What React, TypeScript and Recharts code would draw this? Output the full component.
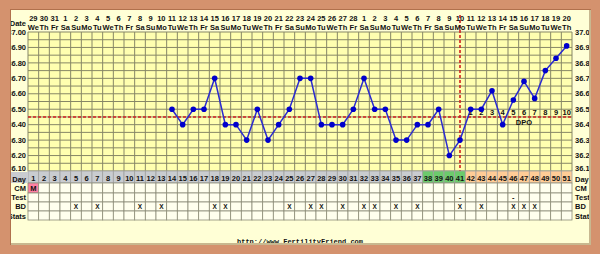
import React from 'react';
import { ComposedChart, Line, XAxis, YAxis, CartesianGrid, ReferenceLine, Scatter } from 'recharts';

// ---------- data ----------
const days = [1,2,3,4,5,6,7,8,9,10,11,12,13,14,15,16,17,18,19,20,21,22,23,24,25,26,27,28,29,30,31,32,33,34,35,36,37,38,39,40,41,42,43,44,45,46,47,48,49,50,51];
const dateNums = ['29','30','31','1','2','3','4','5','6','7','8','9','10','11','12','13','14','15','16','17','18','19','20','21','22','23','24','25','26','27','28','1','2','3','4','5','6','7','8','9','10','11','12','13','14','15','16','17','18','19','20'];
const weekdays = ['We','Th','Fr','Sa','Su','Mo','Tu','We','Th','Fr','Sa','Su','Mo','Tu','We','Th','Fr','Sa','Su','Mo','Tu','We','Th','Fr','Sa','Su','Mo','Tu','We','Th','Fr','Sa','Su','Mo','Tu','We','Th','Fr','Sa','Su','Mo','Tu','We','Th','Fr','Sa','Su','Mo','Tu','We','Th'];
const tempDays = [14,15,16,17,18,19,20,21,22,23,24,25,26,27,28,29,30,31,32,33,34,35,36,37,38,39,40,41,42,43,44,45,46,47,48,49,50,51];
const temps = [36.5,36.4,36.5,36.5,36.7,36.4,36.4,36.3,36.5,36.3,36.4,36.5,36.7,36.7,36.4,36.4,36.4,36.5,36.7,36.5,36.5,36.3,36.3,36.4,36.4,36.5,36.2,36.3,36.5,36.5,36.62,36.4,36.56,36.68,36.57,36.75,36.83,36.91];
const coverline = 36.45;
const ovulationDay = 41;
const fertileDays = [38,39,40,41];
const lutealDays = [42,43,44,45,46,47,48,49,50,51];
const cmDays = [1];
const cmLabels = ['M'];
const testDays = [41,46];
const testLabels = ['-','-'];
const bdDays = [5,7,11,13,18,19,25,27,28,30,32,33,35,37,41,43,46,47,48];
const dpoDays = [42,43,44,45,46,47,48,49,50,51];
const dpoLabels = ['1','2','3','4','5','6','7','8','9','10'];
const dpoLevel = 36.482;
const dpoTitleDay = 47;
const dpoTitleLevel = 36.417;
const tempTicks = [36.1,36.2,36.3,36.4,36.5,36.6,36.7,36.8,36.9,37.0];
const gridTemps = [36.10,36.15,36.20,36.25,36.30,36.35,36.40,36.45,36.50,36.55,36.60,36.65,36.70,36.75,36.80,36.85,36.90,36.95,37.00];
const gridCols = [0.5].concat(days.map((d) => d + 0.5));

const chartData = days.map((d) => {
  const i = tempDays.indexOf(d);
  return { day: d, temp: i >= 0 ? temps[i] : null };
});
const dpoData = dpoDays.map((d, i) => ({ day: d, y: dpoLevel, label: dpoLabels[i] }));
const dpoTitle = [{ day: dpoTitleDay, y: dpoTitleLevel, label: 'DPO' }];

// ---------- style ----------
const W = 600;
const H = 254;
const PLOT_L = 28;
const PLOT_R = 572;
const COL_W = (PLOT_R - PLOT_L) / days.length;
const PANEL = '#FFFFD6';
const PLOT_BG = '#FFFFB0';
const GRID = '#878766';
const FONT = "'Liberation Sans', Arial, sans-serif";
const MONO = "'Liberation Mono', 'DejaVu Sans Mono', monospace";
const txt = { fontFamily: FONT, fontSize: 7.5, fontWeight: 700, fill: '#111' } as const;

const ROWS = [
  { key: 'cm', top: 183, h: 10, base: 191 },
  { key: 'test', top: 193, h: 9, base: 200 },
  { key: 'bd', top: 202, h: 9, base: 209 },
  { key: 'stats', top: 211, h: 9, base: 218.5 },
];

function dayFill(d: number) {
  if (fertileDays.indexOf(d) >= 0) return '#6CCB6C';
  if (lutealDays.indexOf(d) >= 0) return '#FFCC96';
  return '#C9CCD0';
}

function cellContent(key: string, d: number): string {
  if (key === 'cm') { const i = cmDays.indexOf(d); return i >= 0 ? cmLabels[i] : ''; }
  if (key === 'test') { const i = testDays.indexOf(d); return i >= 0 ? testLabels[i] : ''; }
  if (key === 'bd') return bdDays.indexOf(d) >= 0 ? 'X' : '';
  return '';
}

function DayColumn(props: any) {
  const { x, payload } = props;
  const d = payload.value as number;
  const left = x - COL_W / 2;
  return (
    <g>
      <rect x={left} y={171} width={COL_W} height={12} fill={dayFill(d)} stroke="#a0a0a0" strokeWidth={0.8} />
      <text x={x} y={181} textAnchor="middle" {...txt}>{d}</text>
      {ROWS.map((r) => {
        const c = cellContent(r.key, d);
        const pink = r.key === 'cm' && c !== '';
        return (
          <g key={r.key}>
            <rect x={left} y={r.top} width={COL_W} height={r.h} fill={pink ? '#FF7FA2' : '#FFFFEE'} stroke="#8c8c78" strokeWidth={0.8} />
            {c !== '' && (
              <text x={x} y={r.base} textAnchor="middle" {...txt} fontSize={r.key === 'bd' ? 6.5 : 7.5}>{c}</text>
            )}
          </g>
        );
      })}
    </g>
  );
}

function DateTick(props: any) {
  const { x, index } = props;
  return (
    <g>
      <text x={x} y={21} textAnchor="middle" {...txt}>{dateNums[index]}</text>
      <text x={x} y={29.5} textAnchor="middle" {...txt}>{weekdays[index]}</text>
    </g>
  );
}

function TempTick(props: any) {
  const { x, y, payload, side } = props;
  const v = payload.value as number;
  const shift = v <= tempTicks[0] + 0.001 ? -2.5 : 0;
  return (
    <text x={x} y={y + shift} dy="0.355em" textAnchor={side === 'left' ? 'end' : 'start'} {...txt}>
      {side === 'left' ? v.toFixed(2) : v.toFixed(1)}
    </text>
  );
}

function TextShape(props: any) {
  const { cx, cy, payload } = props;
  return (
    <text x={cx} y={cy} textAnchor="middle" dominantBaseline="central" {...txt}>{payload.label}</text>
  );
}

const rowLabels = ['Day', 'CM', 'Test', 'BD', 'Stats'];
const rowBases = [181.5, 191, 200, 209, 218.5];

export default function App() {
  return (
    <div style={{ position: 'absolute', left: 0, top: 0, width: W, height: H, background: PANEL, overflow: 'hidden' }}>
      <ComposedChart width={W} height={H} data={chartData} margin={{ top: 0, right: 0, bottom: 0, left: 0 }}>
        <CartesianGrid fill={PLOT_BG} stroke={GRID} strokeWidth={1} horizontalValues={gridTemps} verticalValues={gridCols} />
        <XAxis dataKey="day" type="number" domain={[0.5, 51.5]} ticks={days} interval={0} height={83}
          axisLine={false} tickLine={false} tick={(p: any) => <DayColumn {...p} />} allowDataOverflow />
        <XAxis xAxisId="top" orientation="top" dataKey="day" type="number" domain={[0.5, 51.5]} ticks={days} interval={0} height={32}
          axisLine={false} tickLine={false} tick={(p: any) => <DateTick {...p} />} allowDataOverflow />
        <YAxis type="number" domain={[36.1, 37.0]} ticks={tempTicks} interval={0} width={28}
          axisLine={false} tickLine={false} tickSize={0} tickMargin={2}
          tick={(p: any) => <TempTick {...p} side="left" />} allowDataOverflow />
        <YAxis yAxisId="right" orientation="right" type="number" domain={[36.1, 37.0]} ticks={tempTicks} interval={0} width={28}
          axisLine={false} tickLine={false} tickSize={0} tickMargin={3}
          tick={(p: any) => <TempTick {...p} side="right" />} allowDataOverflow />
        <ReferenceLine y={coverline} stroke="#D02020" strokeWidth={1.6} strokeDasharray="3 2" />
        <ReferenceLine segment={[{ x: ovulationDay, y: 37.11 }, { x: ovulationDay, y: 36.1 }]} stroke="#D02020" strokeWidth={1.6} strokeDasharray="3 2" ifOverflow="visible" />
        <Scatter data={dpoData} dataKey="y" shape={(p: any) => <TextShape {...p} />} isAnimationActive={false} />
        <Scatter data={dpoTitle} dataKey="y" shape={(p: any) => <TextShape {...p} />} isAnimationActive={false} />
        <Line dataKey="temp" stroke="#2b2bd0" strokeWidth={1.5} isAnimationActive={false} connectNulls={false}
          dot={{ r: 2.8, fill: '#0000cc', stroke: '#0000cc', strokeWidth: 0 }} activeDot={false} />
      </ComposedChart>
      <svg width={W} height={H} style={{ position: 'absolute', left: 0, top: 0, pointerEvents: 'none' }}>
        <rect x={8} y={172} width={20} height={11} fill="#C9CCD0" />
        <text x={26} y={25.5} textAnchor="end" {...txt}>Date</text>
        {rowLabels.map((l, i) => (
          <text key={'l' + l} x={26} y={rowBases[i]} textAnchor="end" {...txt}>{l}</text>
        ))}
        {rowLabels.map((l, i) => (
          <text key={'r' + l} x={575} y={rowBases[i]} textAnchor="start" {...txt}>{l}</text>
        ))}
        <text x={300} y={244} textAnchor="middle" fontFamily={MONO} fontSize={7} fontWeight={700} fill="#111">http://www.FertilityFriend.com</text>
      </svg>
      <div style={{
        position: 'absolute', left: 0, top: 0, width: W, height: H, boxSizing: 'border-box',
        borderStyle: 'solid', borderColor: '#D4926E', borderWidth: '9px 9px 9px 10px',
        boxShadow: 'inset 1px 1px 0 #b0704c, inset -2px -2px 0 #c8b890, 0 0 0 1px #b87a58 inset',
      }} />
    </div>
  );
}
